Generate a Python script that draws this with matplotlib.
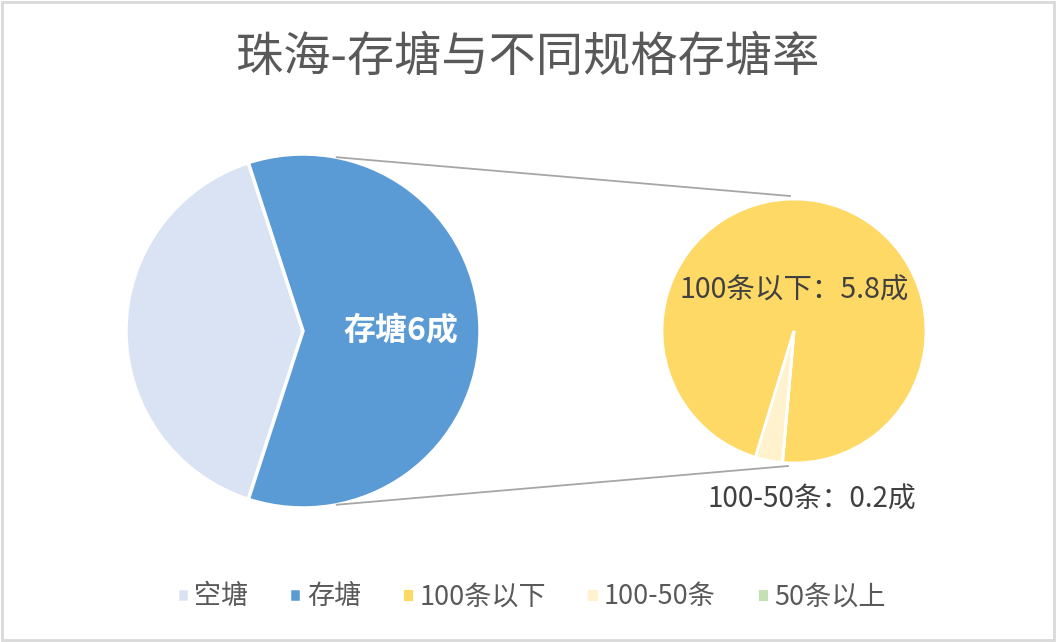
import matplotlib.pyplot as plt
import numpy as np

plt.rcParams['font.family'] = ['Noto Sans CJK SC', 'DejaVu Sans']

# data
title = "珠海-存塘与不同规格存塘率"
main_labels = ["空塘", "存塘"]
main_vals = [4, 6]                     # 成
main_colors = ["#DAE3F3", "#5B9BD5"]
sub_labels = ["100条以下", "100-50条", "50条以上"]
sub_vals = [5.8, 0.2, 0.0]             # 成
sub_colors = ["#FFD966", "#FFF2CC", "#C5E0B4"]

W, H = 1056, 642
fig = plt.figure(figsize=(W / 100, H / 100), dpi=100)
ax = fig.add_axes([0, 0, 1, 1])

# main pie (空塘 centered on the left side)
c1, r1 = (303, H - 331), 177
start1 = 180 - 360 * main_vals[0] / sum(main_vals) / 2
w1, _ = ax.pie(main_vals, colors=main_colors, startangle=start1, center=c1, radius=r1,
               wedgeprops=dict(edgecolor='white', linewidth=2.5), frame=True)
ax.text(c1[0] + 98, c1[1], "存塘6成", color='white', fontsize=23, weight='bold',
        ha='center', va='center')

# secondary pie
c2, r2 = (794, H - 331), 132
w2, _ = ax.pie(sub_vals, colors=sub_colors, startangle=265, center=c2, radius=r2,
               wedgeprops=dict(edgecolor='white', linewidth=2), frame=True)
ax.set_xlim(0, W)
ax.set_ylim(0, H)
ax.set_aspect('equal')
ax.axis('off')

ax.text(c2[0], H - 291, "100条以下：5.8成", color='#404040', fontsize=20.5,
        ha='center', va='center')
ax.text(812, H - 500, "100-50条：0.2成", color='#404040', fontsize=20,
        ha='center', va='center')

# connector lines
a = np.deg2rad(79)
ax.plot([c1[0] + r1 * np.cos(a), c2[0] - 4], [c1[1] + r1 * np.sin(a), c2[1] + r2 + 3],
        color='#A6A6A6', lw=1.3)
ax.plot([c1[0] + r1 * np.cos(a), c2[0] - 6], [c1[1] - r1 * np.sin(a), c2[1] - r2 - 3],
        color='#A6A6A6', lw=1.3)

fig.text(0.5, 1 - 58 / H, title, ha='center', va='center', fontsize=34, color='#595959')

fig.legend(list(w1) + list(w2), main_labels + sub_labels, loc='center',
           bbox_to_anchor=(0.503, 1 - 597 / H), ncol=5, frameon=False, fontsize=19.5,
           handlelength=0.45, handleheight=0.45, handletextpad=0.2, columnspacing=1.5,
           labelcolor='#595959')

# outer frame
fig.patches.append(plt.Rectangle((0.002, 0.003), 0.996, 0.994, transform=fig.transFigure,
                                 fill=False, edgecolor='#D9D9D9', lw=2))

fig.savefig("out.png", dpi=100)
